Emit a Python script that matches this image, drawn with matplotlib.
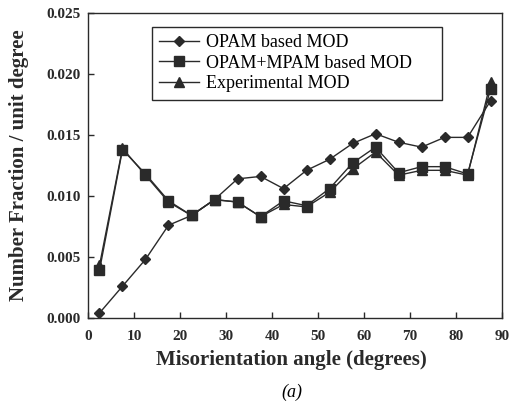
import matplotlib.pyplot as plt
import numpy as np

# 數據
angles = [2.5, 7.5, 12.5, 17.5, 22.5, 27.5, 32.5, 37.5, 42.5,
          47.5, 52.5, 57.5, 62.5, 67.5, 72.5, 77.5, 82.5, 87.5]
opam = [0.0004, 0.0026, 0.0048, 0.0076, 0.0084, 0.0097, 0.0114, 0.0116, 0.0106,
        0.0121, 0.0130, 0.0143, 0.0151, 0.0144, 0.0140, 0.0148, 0.0148, 0.0178]
opam_mpam = [0.0039, 0.0138, 0.0118, 0.0096, 0.0084, 0.0097, 0.0095, 0.0083, 0.0096,
             0.0092, 0.0106, 0.0127, 0.0140, 0.0119, 0.0124, 0.0124, 0.0118, 0.0188]
experimental = [0.0043, 0.0139, 0.0117, 0.0095, 0.0084, 0.0097, 0.0095, 0.0083, 0.0093,
                0.0091, 0.0103, 0.0122, 0.0136, 0.0117, 0.0121, 0.0121, 0.0117, 0.0193]

labels = ['OPAM based MOD', 'OPAM+MPAM based MOD', 'Experimental MOD']
x_ticks = [0, 10, 20, 30, 40, 50, 60, 70, 80, 90]
y_ticks = [0.000, 0.005, 0.010, 0.015, 0.020, 0.025]

plt.rcParams['font.family'] = ['Liberation Serif', 'DejaVu Serif']

fig = plt.figure(figsize=(5.1, 4.04), dpi=100)
ax = fig.add_axes([0.1725, 0.213, 0.812, 0.755])

c = '#2a2a2a'
ax.plot(angles, opam, color=c, lw=1.0, marker='D', ms=5, label=labels[0])
ax.plot(angles, opam_mpam, color=c, lw=1.0, marker='s', ms=6.5, label=labels[1])
ax.plot(angles, experimental, color=c, lw=1.0, marker='^', ms=6.5, label=labels[2])

ax.set_xlim(0, 90)
ax.set_ylim(0, 0.025)
ax.set_xticks(x_ticks)
ax.set_yticks(y_ticks)
ax.set_yticklabels([f'{v:.3f}' for v in y_ticks])
ax.tick_params(direction='in', length=4, width=1, labelsize=11, colors=c)
ax.tick_params(axis='x', pad=9)
ax.tick_params(axis='y', pad=5)
for lab in ax.get_xticklabels() + ax.get_yticklabels():
    lab.set_fontweight('bold')
for sp in ax.spines.values():
    sp.set_color(c)
    sp.set_linewidth(1.0)

ax.set_xlabel('Misorientation angle (degrees)', fontsize=15, fontweight='bold', color=c)
ax.set_ylabel('Number Fraction / unit degree', fontsize=15, fontweight='bold', color=c)
ax.xaxis.set_label_coords(0.49, -0.105)
ax.yaxis.set_label_coords(-0.143, 0.5)

# 圖例框: 左上角對齊, 向右展開
leg = ax.legend(loc='upper left', bbox_to_anchor=(0.155, 0.654, 0.70, 0.30), mode='expand',
                borderaxespad=0, fontsize=13, frameon=True, fancybox=False, edgecolor=c,
                framealpha=1, handlelength=2.2, handletextpad=0.4, borderpad=0.4,
                labelspacing=0.2)
leg.get_frame().set_linewidth(1.0)

fig.text(0.572, 0.03, '(a)', fontsize=13, style='italic', ha='center', va='center')

fig.savefig('out.png', dpi=100)
